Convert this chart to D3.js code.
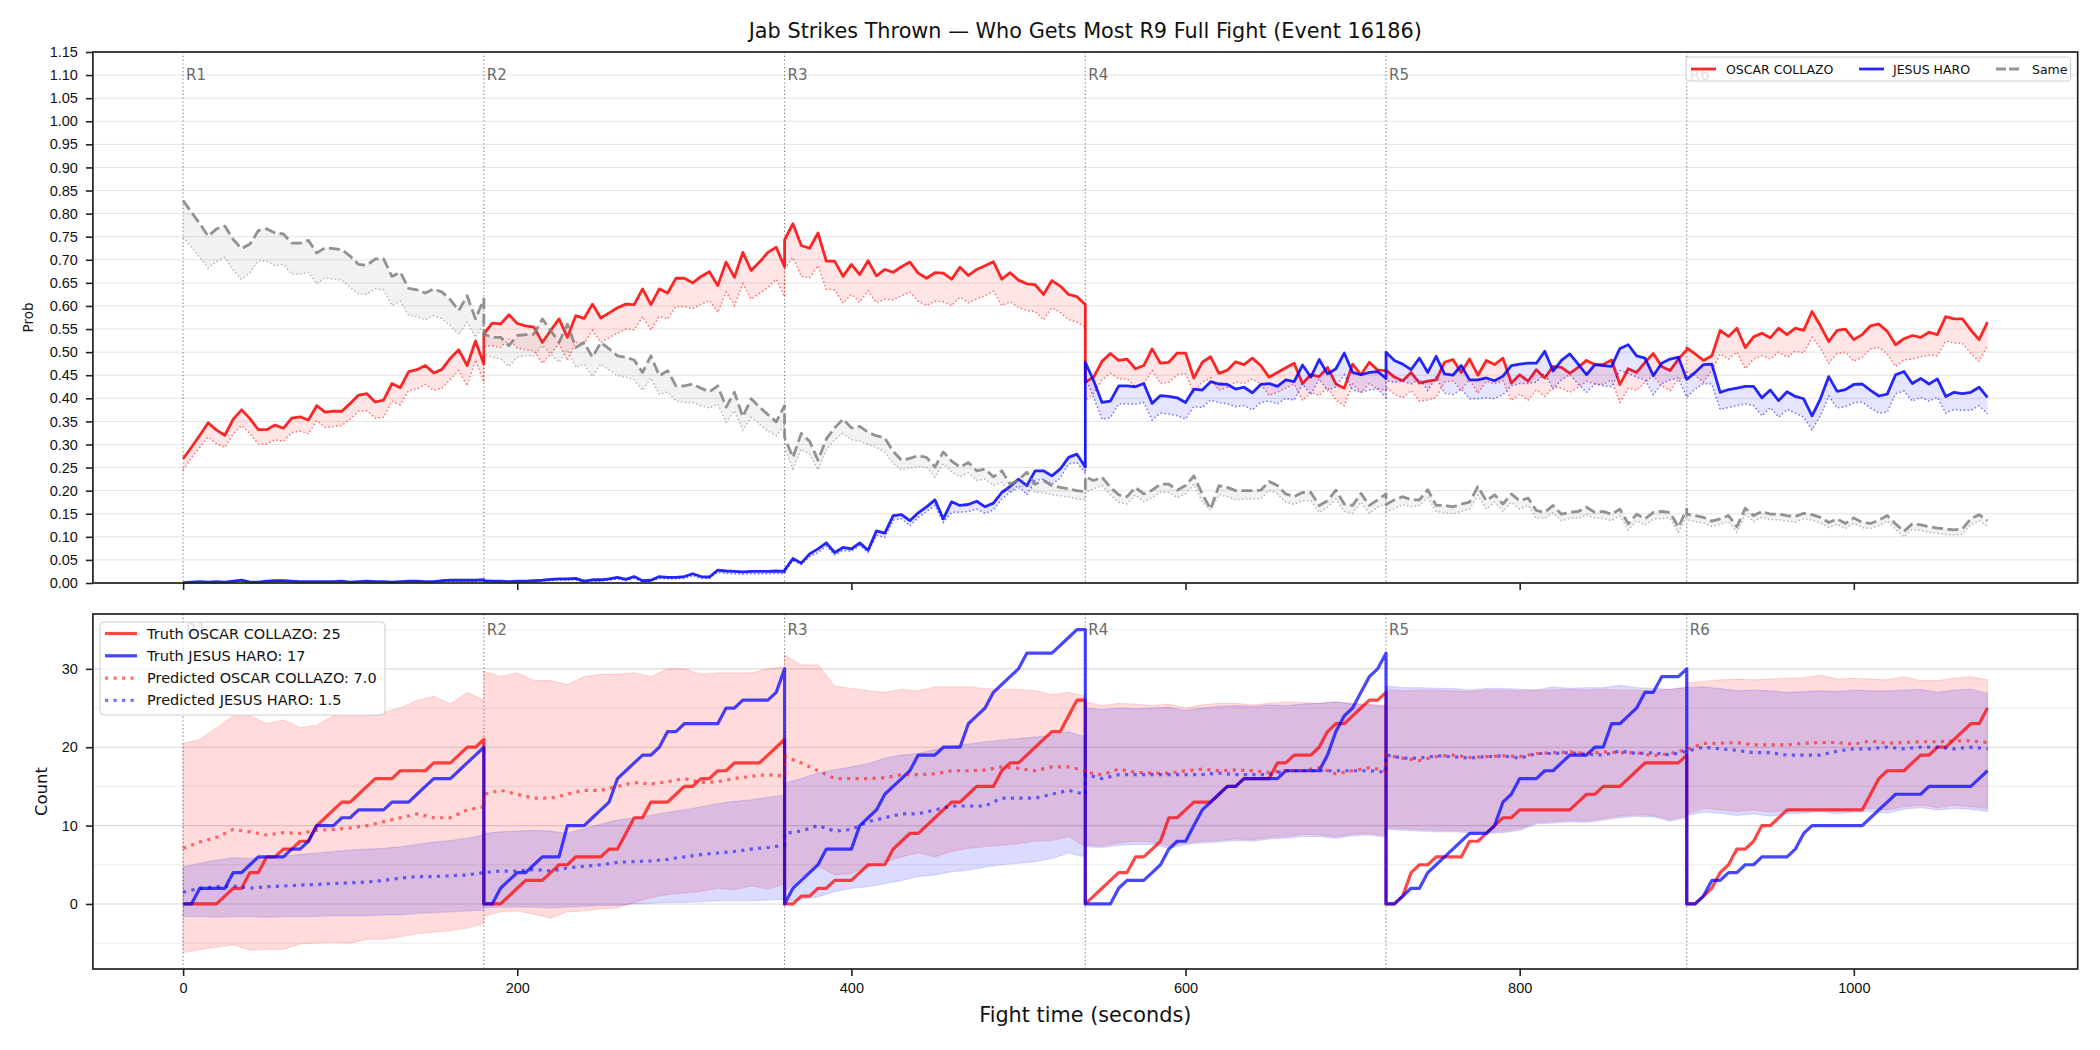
<!DOCTYPE html>
<meta charset="utf-8">
<style>
body {
  margin: 0;
  background: #fff;
}
svg {
  font-family: "DejaVu Sans", sans-serif;
}
.tick text {
  font-size: 14.5px;
  fill: #111;
}
.tick line {
  stroke: #222;
  stroke-width: 1.6;
}
</style>
<body>
<svg width="2100" height="1050"></svg>
<script src="https://d3js.org/d3.v7.min.js"></script>
<script>
// ---- data ----
var fighterA = "OSCAR COLLAZO", fighterB = "JESUS HARO";
var roundStarts = [0, 180, 360, 540, 720, 900];
var roundNames = ["R1", "R2", "R3", "R4", "R5", "R6"];
var probTicks = [0, 0.05, 0.10, 0.15, 0.20, 0.25, 0.30, 0.35, 0.40, 0.45, 0.50, 0.55, 0.60, 0.65, 0.70, 0.75, 0.80, 0.85, 0.90, 0.95, 1.00, 1.05, 1.10, 1.15];
var countTicks = [0, 10, 20, 30];
var countMinorGrid = [-5, 5, 15, 25, 35];
var timeTicks = [0, 200, 400, 600, 800, 1000];
var finalTruth = [25, 17];
var finalPred = [7.0, 1.5];

// top panel, one value every 5 s, one row per round
var probA = [
  [0.269,0.294,0.320,0.347,0.331,0.320,0.355,0.375,0.356,0.332,0.332,0.342,0.335,0.357,0.360,0.353,0.384,0.370,0.372,0.372,0.389,0.407,0.410,0.392,0.396,0.432,0.423,0.458,0.462,0.471,0.455,0.463,0.487,0.505,0.471,0.524,0.474],
  [0.539,0.563,0.561,0.581,0.562,0.557,0.554,0.521,0.547,0.572,0.532,0.579,0.573,0.604,0.574,0.585,0.596,0.604,0.603,0.637,0.603,0.637,0.628,0.660,0.660,0.650,0.664,0.674,0.644,0.695,0.662,0.716,0.677,0.695,0.716,0.727,0.685],
  [0.743,0.778,0.731,0.725,0.758,0.697,0.697,0.664,0.690,0.668,0.698,0.665,0.679,0.673,0.685,0.695,0.671,0.660,0.672,0.671,0.658,0.684,0.666,0.679,0.687,0.696,0.658,0.672,0.656,0.648,0.646,0.625,0.655,0.643,0.625,0.620,0.603],
  [0.435,0.446,0.480,0.497,0.482,0.485,0.464,0.471,0.507,0.476,0.478,0.498,0.498,0.444,0.478,0.490,0.454,0.461,0.479,0.473,0.487,0.471,0.446,0.456,0.466,0.476,0.432,0.451,0.447,0.467,0.431,0.422,0.474,0.451,0.478,0.461,0.460],
  [0.461,0.446,0.438,0.456,0.433,0.437,0.440,0.478,0.484,0.456,0.485,0.450,0.482,0.473,0.487,0.433,0.451,0.437,0.462,0.444,0.469,0.467,0.454,0.467,0.482,0.473,0.473,0.483,0.430,0.464,0.456,0.478,0.497,0.469,0.460,0.485,0.505],
  [0.509,0.496,0.482,0.492,0.547,0.534,0.552,0.510,0.533,0.541,0.531,0.552,0.538,0.552,0.547,0.588,0.557,0.523,0.547,0.550,0.527,0.538,0.557,0.561,0.545,0.516,0.529,0.536,0.532,0.543,0.538,0.577,0.572,0.572,0.548,0.527,0.565]
];
var probALow = [
  [0.245,0.272,0.294,0.316,0.301,0.294,0.323,0.341,0.323,0.301,0.301,0.310,0.307,0.326,0.329,0.323,0.352,0.337,0.339,0.341,0.355,0.372,0.373,0.357,0.359,0.394,0.386,0.417,0.420,0.430,0.417,0.422,0.442,0.460,0.427,0.483,0.435],
  [0.512,0.514,0.510,0.528,0.509,0.505,0.503,0.476,0.496,0.518,0.482,0.521,0.518,0.547,0.521,0.532,0.541,0.550,0.548,0.577,0.548,0.577,0.572,0.599,0.599,0.594,0.603,0.612,0.586,0.630,0.601,0.648,0.615,0.627,0.640,0.658,0.620],
  [0.680,0.705,0.664,0.661,0.687,0.636,0.635,0.606,0.625,0.608,0.633,0.607,0.615,0.613,0.622,0.630,0.610,0.601,0.610,0.609,0.601,0.619,0.607,0.615,0.622,0.632,0.601,0.609,0.597,0.590,0.588,0.570,0.596,0.586,0.570,0.565,0.554],
  [0.395,0.411,0.440,0.454,0.442,0.442,0.425,0.431,0.460,0.432,0.435,0.451,0.453,0.413,0.435,0.444,0.417,0.424,0.435,0.432,0.442,0.431,0.406,0.413,0.422,0.431,0.395,0.413,0.406,0.424,0.396,0.384,0.431,0.413,0.432,0.420,0.418],
  [0.424,0.409,0.401,0.417,0.394,0.396,0.402,0.435,0.438,0.418,0.440,0.411,0.437,0.431,0.438,0.395,0.409,0.396,0.418,0.404,0.424,0.422,0.413,0.424,0.437,0.431,0.430,0.440,0.391,0.422,0.417,0.435,0.449,0.427,0.417,0.442,0.446],
  [0.456,0.449,0.435,0.460,0.496,0.485,0.500,0.464,0.485,0.492,0.485,0.500,0.489,0.502,0.498,0.532,0.509,0.476,0.497,0.500,0.480,0.489,0.507,0.510,0.496,0.469,0.483,0.485,0.490,0.494,0.492,0.524,0.520,0.519,0.497,0.480,0.514]
];
var probB = [
  [0.001,0.002,0.003,0.002,0.003,0.002,0.004,0.006,0.002,0.002,0.004,0.005,0.005,0.004,0.003,0.003,0.003,0.003,0.003,0.004,0.002,0.003,0.004,0.003,0.003,0.002,0.003,0.004,0.004,0.003,0.003,0.005,0.006,0.006,0.006,0.006,0.007],
  [0.005,0.004,0.004,0.003,0.004,0.004,0.005,0.006,0.008,0.009,0.009,0.010,0.004,0.007,0.007,0.009,0.012,0.008,0.014,0.005,0.006,0.014,0.012,0.012,0.014,0.020,0.014,0.013,0.028,0.026,0.025,0.024,0.025,0.025,0.025,0.026,0.025],
  [0.028,0.053,0.043,0.063,0.074,0.087,0.066,0.077,0.074,0.087,0.071,0.113,0.108,0.146,0.148,0.135,0.152,0.165,0.180,0.139,0.176,0.168,0.170,0.177,0.165,0.173,0.196,0.209,0.225,0.211,0.243,0.243,0.232,0.247,0.272,0.279,0.251],
  [0.478,0.438,0.391,0.394,0.427,0.427,0.425,0.432,0.389,0.406,0.404,0.401,0.391,0.420,0.418,0.436,0.431,0.430,0.420,0.424,0.412,0.430,0.432,0.426,0.440,0.436,0.472,0.446,0.484,0.453,0.464,0.498,0.456,0.451,0.456,0.458,0.443],
  [0.500,0.482,0.474,0.462,0.487,0.456,0.491,0.453,0.450,0.471,0.440,0.440,0.444,0.438,0.448,0.471,0.474,0.476,0.476,0.502,0.459,0.482,0.496,0.474,0.451,0.473,0.471,0.469,0.508,0.516,0.492,0.487,0.449,0.476,0.485,0.489,0.441],
  [0.441,0.456,0.473,0.474,0.413,0.419,0.422,0.426,0.426,0.401,0.418,0.395,0.414,0.404,0.399,0.362,0.399,0.447,0.415,0.419,0.430,0.431,0.417,0.405,0.409,0.451,0.458,0.432,0.443,0.431,0.442,0.404,0.413,0.410,0.413,0.424,0.402]
];
var probBLow = [
  [0.000,0.001,0.001,0.001,0.001,0.001,0.002,0.003,0.001,0.001,0.002,0.003,0.003,0.002,0.001,0.001,0.001,0.001,0.001,0.002,0.001,0.001,0.002,0.001,0.001,0.001,0.001,0.002,0.002,0.001,0.001,0.003,0.004,0.004,0.004,0.004,0.005],
  [0.003,0.002,0.002,0.001,0.002,0.002,0.003,0.004,0.005,0.006,0.006,0.007,0.002,0.004,0.004,0.006,0.009,0.005,0.010,0.003,0.004,0.010,0.009,0.009,0.010,0.016,0.010,0.010,0.023,0.021,0.020,0.019,0.020,0.020,0.020,0.021,0.020],
  [0.023,0.048,0.040,0.057,0.066,0.079,0.061,0.070,0.069,0.081,0.066,0.103,0.099,0.136,0.139,0.124,0.142,0.155,0.168,0.131,0.153,0.153,0.155,0.160,0.151,0.158,0.182,0.196,0.211,0.191,0.222,0.225,0.214,0.227,0.258,0.261,0.238],
  [0.445,0.402,0.355,0.358,0.388,0.388,0.387,0.391,0.353,0.368,0.366,0.362,0.355,0.382,0.380,0.396,0.391,0.388,0.382,0.384,0.375,0.391,0.394,0.388,0.400,0.396,0.431,0.408,0.442,0.417,0.425,0.451,0.418,0.413,0.418,0.420,0.402],
  [0.438,0.435,0.437,0.431,0.442,0.417,0.446,0.411,0.408,0.420,0.399,0.399,0.401,0.399,0.408,0.427,0.432,0.432,0.435,0.454,0.420,0.440,0.451,0.431,0.413,0.431,0.427,0.425,0.460,0.454,0.446,0.440,0.408,0.432,0.440,0.444,0.402],
  [0.402,0.420,0.432,0.431,0.376,0.380,0.384,0.388,0.384,0.362,0.380,0.359,0.376,0.368,0.359,0.332,0.362,0.405,0.379,0.382,0.390,0.392,0.379,0.368,0.370,0.410,0.416,0.394,0.402,0.394,0.402,0.368,0.376,0.374,0.374,0.384,0.366]
];
var probSame = [
  [0.828,0.803,0.778,0.751,0.767,0.773,0.744,0.724,0.734,0.763,0.767,0.758,0.756,0.736,0.736,0.742,0.715,0.726,0.724,0.722,0.708,0.690,0.688,0.702,0.702,0.664,0.673,0.638,0.635,0.628,0.637,0.630,0.613,0.590,0.622,0.572,0.615],
  [0.539,0.532,0.532,0.514,0.536,0.538,0.539,0.572,0.547,0.521,0.561,0.510,0.521,0.489,0.521,0.507,0.492,0.489,0.483,0.456,0.492,0.449,0.460,0.427,0.427,0.431,0.422,0.414,0.427,0.381,0.413,0.360,0.399,0.381,0.365,0.349,0.384],
  [0.316,0.272,0.324,0.307,0.266,0.312,0.336,0.355,0.336,0.339,0.326,0.319,0.314,0.285,0.266,0.270,0.276,0.272,0.251,0.284,0.264,0.251,0.261,0.243,0.247,0.230,0.243,0.214,0.223,0.240,0.214,0.222,0.211,0.207,0.204,0.200,0.198],
  [0.230,0.222,0.229,0.207,0.191,0.187,0.207,0.193,0.201,0.214,0.214,0.201,0.211,0.232,0.193,0.160,0.211,0.207,0.200,0.200,0.200,0.201,0.220,0.211,0.193,0.187,0.196,0.196,0.168,0.178,0.201,0.171,0.168,0.194,0.168,0.180,0.193],
  [0.170,0.180,0.187,0.180,0.180,0.202,0.168,0.168,0.165,0.171,0.175,0.209,0.178,0.191,0.171,0.193,0.178,0.184,0.157,0.153,0.168,0.149,0.153,0.155,0.164,0.153,0.155,0.149,0.160,0.128,0.149,0.139,0.153,0.155,0.153,0.121,0.160],
  [0.149,0.146,0.142,0.134,0.139,0.146,0.122,0.162,0.146,0.155,0.149,0.149,0.146,0.144,0.151,0.148,0.142,0.131,0.139,0.129,0.141,0.131,0.129,0.136,0.146,0.128,0.112,0.128,0.126,0.122,0.119,0.117,0.115,0.117,0.139,0.148,0.135]
];
var probSameLow = [
  [0.749,0.727,0.705,0.682,0.696,0.705,0.677,0.658,0.672,0.698,0.697,0.687,0.690,0.669,0.669,0.673,0.648,0.661,0.658,0.656,0.640,0.626,0.626,0.637,0.635,0.601,0.610,0.579,0.577,0.570,0.579,0.572,0.557,0.538,0.565,0.532,0.561],
  [0.496,0.489,0.485,0.469,0.489,0.492,0.492,0.514,0.496,0.478,0.505,0.467,0.474,0.447,0.474,0.461,0.449,0.446,0.440,0.417,0.444,0.408,0.414,0.394,0.391,0.391,0.384,0.379,0.388,0.348,0.373,0.331,0.359,0.344,0.329,0.319,0.341],
  [0.294,0.247,0.290,0.279,0.245,0.289,0.310,0.324,0.310,0.307,0.300,0.294,0.283,0.259,0.245,0.249,0.252,0.251,0.229,0.258,0.240,0.230,0.238,0.222,0.225,0.211,0.218,0.196,0.204,0.214,0.196,0.196,0.191,0.189,0.186,0.182,0.180],
  [0.196,0.204,0.211,0.191,0.175,0.171,0.191,0.176,0.185,0.196,0.196,0.185,0.193,0.214,0.175,0.158,0.191,0.187,0.180,0.182,0.182,0.182,0.201,0.193,0.175,0.170,0.178,0.178,0.153,0.164,0.182,0.155,0.151,0.175,0.151,0.164,0.171],
  [0.155,0.160,0.170,0.165,0.168,0.185,0.155,0.152,0.150,0.155,0.160,0.190,0.160,0.175,0.155,0.175,0.160,0.168,0.140,0.140,0.152,0.135,0.140,0.140,0.148,0.140,0.140,0.135,0.145,0.115,0.135,0.125,0.138,0.140,0.140,0.110,0.145],
  [0.137,0.133,0.130,0.122,0.127,0.133,0.110,0.148,0.133,0.142,0.137,0.137,0.134,0.132,0.139,0.136,0.130,0.120,0.127,0.118,0.129,0.120,0.118,0.124,0.134,0.116,0.100,0.116,0.114,0.110,0.107,0.105,0.104,0.106,0.126,0.135,0.123]
];

// bottom panel: running truth counts every 5 s
var truthA = [
  [0,0,0,0,0,1,2,2,4,4,6,6,7,7,8,8,10,11,12,13,13,14,15,16,16,16,17,17,17,17,18,18,18,19,20,20,21],
  [0,0,0,1,2,3,3,3,4,5,5,6,6,6,6,7,7,9,11,11,13,13,13,14,15,15,16,16,17,17,18,18,18,18,19,20,21],
  [0,0,1,1,2,2,3,3,3,4,5,5,5,7,8,9,9,10,11,12,13,13,14,15,15,15,17,18,18,19,20,21,22,22,24,26,26],
  [0,1,2,3,4,4,6,6,7,8,11,11,12,13,13,13,14,15,15,16,16,16,16,18,18,19,19,19,20,22,23,23,24,25,26,26,27],
  [0,0,1,4,5,5,6,6,6,6,8,8,9,10,11,11,12,12,12,12,12,12,12,13,14,14,15,15,15,16,17,18,18,18,18,18,19],
  [0,0,1,2,4,5,7,7,8,10,10,11,12,12,12,12,12,12,12,12,12,12,14,16,17,17,17,18,19,19,20,20,21,22,23,23,25]
];
var truthB = [
  [0,0,2,2,2,2,4,4,5,6,6,6,6,7,7,8,10,10,10,11,11,12,12,12,12,13,13,13,14,15,16,16,16,17,18,19,20],
  [0,0,2,3,4,4,5,6,6,6,10,10,10,11,12,13,16,17,18,19,19,20,22,22,23,23,23,23,23,25,25,26,26,26,26,27,30],
  [0,2,3,4,5,7,7,7,7,10,11,12,14,15,16,17,19,19,19,20,20,20,23,24,25,27,28,29,30,32,32,32,32,33,34,35,35],
  [0,0,0,0,2,3,3,3,4,5,7,8,8,10,12,13,14,15,15,16,16,16,16,16,17,17,17,17,17,19,22,24,25,27,29,30,32],
  [0,0,1,2,2,4,5,6,7,8,9,9,9,10,13,14,16,16,16,17,17,18,19,19,19,20,20,23,23,24,25,27,27,29,29,29,30],
  [0,0,1,3,3,4,4,5,5,6,6,6,6,7,9,10,10,10,10,10,10,10,11,12,13,14,14,14,14,15,15,15,15,15,15,16,17]
];

// bottom panel: predictions and their bands every 10 s
var predA = [
  [7.1,7.9,8.5,9.5,9.2,8.8,9.1,9.0,9.4,9.5,9.7,10.0,10.5,11.0,11.5,11.0,11.0,12.0,12.4],
  [14.0,14.5,14.0,13.5,13.5,14.0,14.5,14.5,15.0,15.5,15.3,15.6,16.0,15.5,15.6,16.0,16.3,16.5,16.3],
  [18.8,18.0,17.0,16.0,16.0,16.0,16.1,16.5,16.5,16.6,17.0,17.0,17.1,17.5,17.3,17.0,17.5,17.5,17.0],
  [16.8,16.5,17.2,16.8,16.7,16.7,17.0,17.2,17.0,17.1,17.0,16.8,17.0,17.0,17.4,16.6,17.0,17.4,17.0],
  [19.0,18.6,18.3,18.8,19.0,18.7,18.8,18.9,18.8,19.2,19.3,19.4,19.2,19.4,19.3,19.3,18.9,19.2,19.7],
  [19.7,20.5,20.5,20.6,20.3,20.3,20.3,20.5,20.6,20.6,20.4,20.8,20.5,20.6,20.7,20.7,20.8,20.8,20.6]
];
var predB = [
  [1.5,2.0,2.2,2.3,2.0,2.2,2.3,2.4,2.5,2.6,2.7,2.8,3.0,3.3,3.5,3.5,3.6,3.7,4.0],
  [4.0,4.2,4.2,4.4,4.2,4.6,4.8,5.0,5.3,5.4,5.5,5.7,6.0,6.3,6.5,6.7,7.0,7.2,7.5],
  [9.0,9.3,10.0,9.3,9.5,10.5,11.0,11.5,11.5,12.0,12.5,12.5,12.5,13.5,13.5,13.5,14.0,14.5,14.0],
  [16.5,16.0,16.5,16.5,16.5,16.5,16.5,16.5,16.7,16.5,16.5,16.5,17.0,17.0,17.0,17.0,17.0,17.0,16.8],
  [19.0,18.6,18.6,18.9,18.8,18.6,18.8,18.9,18.6,19.2,19.2,19.3,19.1,19.0,19.5,19.2,19.3,19.0,19.5],
  [19.5,20.0,19.8,19.6,19.3,19.3,19.0,19.0,19.0,19.5,19.8,19.8,20.0,19.8,20.0,20.0,19.8,20.0,19.8]
];
var predAHigh = [
  [20.5,21.0,22.5,24.0,24.0,23.0,23.5,22.5,22.8,24.0,24.0,24.0,24.5,25.0,26.0,26.5,25.5,27.0,26.0],
  [29.7,29.0,29.5,28.5,28.5,28.0,29.0,29.3,29.3,29.5,29.0,30.0,30.0,29.3,29.5,29.5,29.5,30.0,30.3],
  [31.8,30.5,30.5,27.8,27.5,27.2,27.0,27.4,27.2,27.7,27.7,27.7,27.5,27.4,27.4,27.2,26.7,27.0,26.5],
  [25.8,25.3,25.6,25.5,25.3,25.5,25.0,25.4,25.6,25.6,25.4,25.6,25.8,25.7,25.6,25.8,25.6,25.5,25.3],
  [27.4,27.2,27.3,27.3,27.2,27.1,27.3,27.3,27.2,27.3,27.3,27.4,27.3,27.4,27.3,27.3,27.2,27.4,27.6],
  [28.2,28.4,28.6,28.7,28.6,28.7,28.8,28.9,29.2,28.7,28.8,28.7,28.6,29.0,28.5,28.5,28.8,29.0,28.6]
];
var predALow = [
  [-6.2,-5.8,-5.5,-5.2,-5.9,-5.8,-5.8,-5.1,-5.0,-4.9,-5.0,-4.5,-4.5,-4.2,-3.8,-3.6,-3.4,-3.1,-2.5],
  [-1.6,-1.0,-0.9,-1.3,-1.8,-1.0,-0.9,-0.6,-0.5,0.2,0.8,1.2,1.4,1.6,2.0,1.8,2.3,1.9,2.6],
  [1.6,3.5,4.8,3.7,3.9,4.8,5.4,6.0,6.5,6.0,6.7,7.1,7.3,7.5,7.7,8.0,8.1,8.6,7.3],
  [7.5,7.4,7.8,8.0,7.9,7.4,7.8,8.0,8.1,8.3,8.2,8.5,8.6,8.9,8.8,8.6,8.9,9.0,8.7],
  [9.7,9.6,9.5,9.4,9.4,9.3,9.2,9.3,9.6,10.4,10.5,10.7,10.6,10.9,11.2,11.4,11.3,10.8,11.2],
  [11.5,12.2,12.0,11.8,12.0,11.7,11.9,12.0,12.2,11.9,12.1,12.2,12.0,12.4,12.6,12.3,12.6,12.4,12.2]
];
var predBHigh = [
  [4.7,5.2,5.6,5.9,5.8,6.0,6.1,6.3,6.5,6.7,6.9,7.0,7.1,7.3,7.6,7.9,8.1,8.4,8.8],
  [9.0,9.2,9.3,9.4,9.3,9.0,9.6,10.2,10.7,11.0,11.3,11.7,12.0,12.4,12.8,13.1,13.3,13.6,13.9],
  [15.4,16.0,16.7,17.1,17.5,17.9,18.6,19.0,19.2,19.7,20.1,20.4,20.7,20.9,21.1,21.3,21.5,22.0,21.3],
  [25.0,24.8,25.0,24.9,25.0,25.1,24.7,25.0,25.2,25.3,25.2,25.4,25.3,25.5,25.6,25.8,25.5,25.4,25.2],
  [27.8,27.6,27.6,27.5,27.5,27.3,27.5,27.5,27.4,27.3,27.7,27.5,27.6,27.6,27.9,27.6,27.5,27.4,27.7],
  [27.6,27.7,27.5,27.2,27.3,27.2,27.0,27.1,27.2,27.1,27.3,27.2,27.2,27.3,27.4,27.0,27.3,27.4,26.9]
];
var predBLow = [
  [-1.6,-1.6,-1.7,-1.6,-1.6,-1.7,-1.6,-1.6,-1.6,-1.5,-1.5,-1.5,-1.4,-1.4,-1.2,-1.1,-1.0,-0.9,-0.8],
  [-0.5,-0.4,-0.4,-0.4,-0.5,-0.4,-0.3,-0.2,-0.2,0.0,0.1,0.2,0.2,0.3,0.4,0.4,0.4,0.5,0.6],
  [0.3,0.6,0.9,1.6,2.0,2.2,2.6,3.0,3.5,3.7,4.1,4.3,4.7,5.0,5.2,5.4,5.8,6.5,6.0],
  [7.3,7.2,7.5,7.6,7.6,7.1,7.6,7.8,7.9,8.1,8.0,8.3,8.4,8.6,8.6,8.4,8.7,8.8,8.5],
  [9.5,9.4,9.3,9.2,9.2,9.1,9.0,9.1,9.4,10.2,10.3,10.5,10.4,10.7,11.0,11.2,11.1,10.6,11.0],
  [11.3,11.7,11.6,11.3,11.5,11.2,11.5,11.6,11.8,11.5,11.7,11.8,11.6,12.1,12.3,12.0,12.2,12.1,11.8]
];

// ---- helpers: per-round rows -> points on the fight clock ----
function series(rows, step) {
  var out = [];
  rows.forEach(function(vals, r) {
    vals.forEach(function(v, k) { out.push({t: roundStarts[r] + k * step, v: v}); });
  });
  return out;
}
function band(lowRows, highRows, step) {
  var hi = series(highRows, step);
  return series(lowRows, step).map(function(d, i) { return {t: d.t, lo: d.v, hi: hi[i].v}; });
}

var svg = d3.select("svg");
var left = 92.9, right = 2077.7;
var top1 = 52, bot1 = 583, top2 = 614, bot2 = 969;

var x = d3.scaleLinear().domain([-54, 1134]).range([left, right]);
var yP = d3.scaleLinear().domain([0, 1.15]).range([bot1, top1]);
var yC = d3.scaleLinear().domain([-8.3, 37.0]).range([bot2, top2]);

// title
svg.append("text")
    .attr("x", (left + right) / 2).attr("y", 31)
    .attr("text-anchor", "middle").attr("dominant-baseline", "central")
    .style("font-size", "20.8px").style("fill", "#111")
    .text("Jab Strikes Thrown \u2014 Who Gets Most R9 Full Fight (Event 16186)");

// ================= top panel =================
var gP = svg.append("g");

gP.selectAll(".gridP").data(probTicks).enter().append("line")
    .attr("x1", left).attr("x2", right)
    .attr("y1", function(d) { return yP(d); }).attr("y2", function(d) { return yP(d); })
    .attr("stroke", "#e4e4e4").attr("stroke-width", 1);

function roundMarks(g, yScale, y0, y1, labelVal) {
  g.selectAll(".rline").data(roundStarts).enter().append("line")
      .attr("x1", function(d) { return x(d); }).attr("x2", function(d) { return x(d); })
      .attr("y1", y0).attr("y2", y1)
      .attr("stroke", "#555").attr("stroke-opacity", 0.8)
      .attr("stroke-width", 1.1).attr("stroke-dasharray", "1.2,2.6");
  g.selectAll(".rlab").data(roundStarts).enter().append("text")
      .attr("x", function(d) { return x(d) + 3; })
      .attr("y", yScale(labelVal))
      .attr("dominant-baseline", "central")
      .style("font-size", "15px").style("fill", "#6a6a6a")
      .text(function(d, i) { return roundNames[i]; });
}
roundMarks(gP, yP, top1, bot1, 1.10);

var lineP = d3.line().x(function(d) { return x(d.t); }).y(function(d) { return yP(d.v); });
var areaP = d3.area().x(function(d) { return x(d.t); })
    .y0(function(d) { return yP(d.lo); }).y1(function(d) { return yP(d.hi); });

var probSets = [
  {main: probA, low: probALow, color: "red", dash: null},
  {main: probB, low: probBLow, color: "blue", dash: null},
  {main: probSame, low: probSameLow, color: "gray", dash: "11,4.5"}
];
probSets.forEach(function(s) {
  gP.append("path").datum(band(s.low, s.main, 5))
      .attr("d", areaP).attr("fill", s.color).attr("fill-opacity", 0.1);
  gP.append("path").datum(series(s.low, 5))
      .attr("d", lineP).attr("fill", "none")
      .attr("stroke", s.color).attr("stroke-opacity", 0.55)
      .attr("stroke-width", 1.5).attr("stroke-dasharray", "1.5,2.4");
  gP.append("path").datum(series(s.main, 5))
      .attr("d", lineP).attr("fill", "none")
      .attr("stroke", s.color).attr("stroke-opacity", 0.85)
      .attr("stroke-width", 2.8).attr("stroke-linejoin", "round")
      .attr("stroke-dasharray", s.dash);
});

gP.append("g").attr("transform", "translate(" + left + ",0)")
    .call(d3.axisLeft(yP).tickValues(probTicks).tickFormat(d3.format(".2f")).tickSize(7).tickPadding(8))
    .call(function(g) { g.select(".domain").remove(); });
gP.append("g").attr("transform", "translate(0," + bot1 + ")")
    .call(d3.axisBottom(x).tickValues(timeTicks).tickFormat("").tickSize(7))
    .call(function(g) { g.select(".domain").remove(); });

gP.append("rect").attr("x", left).attr("y", top1)
    .attr("width", right - left).attr("height", bot1 - top1)
    .attr("fill", "none").attr("stroke", "#222").attr("stroke-width", 1.7);

svg.append("text")
    .attr("transform", "translate(28," + ((top1 + bot1) / 2) + ") rotate(-90)")
    .attr("text-anchor", "middle").attr("dominant-baseline", "central")
    .style("font-size", "13.5px").style("fill", "#111")
    .text("Prob");

// top legend
var legP = gP.append("g");
legP.append("rect").attr("x", 1686).attr("y", 57).attr("width", 384.5).attr("height", 24)
    .attr("rx", 3).attr("fill", "#fff").attr("fill-opacity", 0.8)
    .attr("stroke", "#ccc").attr("stroke-width", 1);
var legItems = [
  {label: fighterA, color: "red", dash: null, x: 1691, tx: 1726},
  {label: fighterB, color: "blue", dash: null, x: 1859, tx: 1893},
  {label: "Same", color: "gray", dash: "10,3", x: 1996, tx: 2032}
];
legItems.forEach(function(it) {
  legP.append("line").attr("x1", it.x).attr("x2", it.x + 25).attr("y1", 69).attr("y2", 69)
      .attr("stroke", it.color).attr("stroke-opacity", 0.85).attr("stroke-width", 2.8)
      .attr("stroke-dasharray", it.dash);
  legP.append("text").attr("x", it.tx).attr("y", 69).attr("dominant-baseline", "central")
      .style("font-size", "12.5px").style("fill", "#111").text(it.label);
});

// ================= bottom panel =================
var gC = svg.append("g");

gC.selectAll(".gridMinor").data(countMinorGrid).enter().append("line")
    .attr("x1", left).attr("x2", right)
    .attr("y1", function(d) { return yC(d); }).attr("y2", function(d) { return yC(d); })
    .attr("stroke", "#ececec").attr("stroke-width", 1);
gC.selectAll(".gridMajor").data(countTicks).enter().append("line")
    .attr("x1", left).attr("x2", right)
    .attr("y1", function(d) { return yC(d); }).attr("y2", function(d) { return yC(d); })
    .attr("stroke", "#dadada").attr("stroke-width", 1.1);

roundMarks(gC, yC, top2, bot2, 35);

var lineC = d3.line().x(function(d) { return x(d.t); }).y(function(d) { return yC(d.v); });
var areaC = d3.area().x(function(d) { return x(d.t); })
    .y0(function(d) { return yC(d.lo); }).y1(function(d) { return yC(d.hi); });

[[predALow, predAHigh, "red"], [predBLow, predBHigh, "blue"]].forEach(function(b) {
  gC.append("path").datum(band(b[0], b[1], 10))
      .attr("d", areaC).attr("fill", b[2]).attr("fill-opacity", 0.14)
      .attr("stroke", b[2]).attr("stroke-opacity", 0.12).attr("stroke-width", 1.2);
});

[[truthA, "red"], [truthB, "blue"]].forEach(function(s) {
  gC.append("path").datum(series(s[0], 5))
      .attr("d", lineC).attr("fill", "none")
      .attr("stroke", s[1]).attr("stroke-opacity", 0.72)
      .attr("stroke-width", 3.2).attr("stroke-linejoin", "round");
});
[[predA, "red"], [predB, "blue"]].forEach(function(s) {
  gC.append("path").datum(series(s[0], 10))
      .attr("d", lineC).attr("fill", "none")
      .attr("stroke", s[1]).attr("stroke-opacity", 0.55)
      .attr("stroke-width", 3.2).attr("stroke-dasharray", "3.2,5.3");
});

gC.append("g").attr("transform", "translate(" + left + ",0)")
    .call(d3.axisLeft(yC).tickValues(countTicks).tickSize(7).tickPadding(8))
    .call(function(g) { g.select(".domain").remove(); });
gC.append("g").attr("transform", "translate(0," + bot2 + ")")
    .call(d3.axisBottom(x).tickValues(timeTicks).tickFormat(d3.format("d")).tickSize(7).tickPadding(7))
    .call(function(g) { g.select(".domain").remove(); });

gC.append("rect").attr("x", left).attr("y", top2)
    .attr("width", right - left).attr("height", bot2 - top2)
    .attr("fill", "none").attr("stroke", "#222").attr("stroke-width", 1.7);

svg.append("text")
    .attr("transform", "translate(41," + ((top2 + bot2) / 2) + ") rotate(-90)")
    .attr("text-anchor", "middle").attr("dominant-baseline", "central")
    .style("font-size", "16.5px").style("fill", "#111")
    .text("Count");

svg.append("text")
    .attr("x", (left + right) / 2).attr("y", 1015)
    .attr("text-anchor", "middle").attr("dominant-baseline", "central")
    .style("font-size", "20.8px").style("fill", "#111")
    .text("Fight time (seconds)");

// bottom legend (sits over the R1 label, as in the reference)
var legC = gC.append("g");
legC.append("rect").attr("x", 100).attr("y", 622).attr("width", 285).attr("height", 93)
    .attr("rx", 4).attr("fill", "#fff").attr("fill-opacity", 0.8)
    .attr("stroke", "#ccc").attr("stroke-width", 1);
var legC_items = [
  {label: "Truth " + fighterA + ": " + finalTruth[0], color: "red", dash: null, op: 0.72},
  {label: "Truth " + fighterB + ": " + finalTruth[1], color: "blue", dash: null, op: 0.72},
  {label: "Predicted " + fighterA + ": " + finalPred[0].toFixed(1), color: "red", dash: "3.2,5.3", op: 0.55},
  {label: "Predicted " + fighterB + ": " + finalPred[1].toFixed(1), color: "blue", dash: "3.2,5.3", op: 0.55}
];
legC_items.forEach(function(it, i) {
  var yy = 633.5 + i * 22.3;
  legC.append("line").attr("x1", 105).attr("x2", 137).attr("y1", yy).attr("y2", yy)
      .attr("stroke", it.color).attr("stroke-opacity", it.op).attr("stroke-width", 3.2)
      .attr("stroke-dasharray", it.dash);
  legC.append("text").attr("x", 147).attr("y", yy).attr("dominant-baseline", "central")
      .style("font-size", "14.5px").style("fill", "#111").text(it.label);
});
</script>
</body>
